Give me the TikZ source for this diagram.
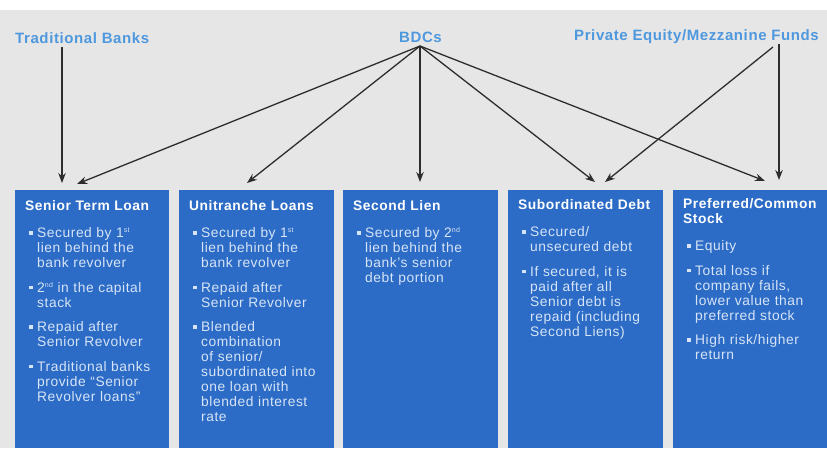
\documentclass[tikz,border=0pt]{standalone}
\usepackage{fontspec}
\newfontfamily\diagfont{Liberation Sans}[LetterSpace=4]
\usetikzlibrary{arrows.meta}

\definecolor{boxblue}{RGB}{44,108,198}
\definecolor{labelblue}{RGB}{78,152,222}
\definecolor{bodytext}{RGB}{214,228,246}
\definecolor{backdrop}{RGB}{230,230,230}
\definecolor{arrowgrey}{RGB}{45,45,45}

% panel heading (white, bold) followed by the gap before the first bullet
\newcommand\panelhead[1]{\strut{\color{white}\bfseries #1}\par\vspace{12pt}}
% one bullet point with a small square marker and hanging indent
\newcommand\bullitem[1]{\hangindent=12pt\hangafter=1\noindent
  \makebox[12pt][l]{\hspace{4pt}\rule[3.2pt]{3.4pt}{3.4pt}}#1\par\vspace{9.5pt}}
% small raised ordinal suffix
\newcommand\ordsuf[1]{\raisebox{5pt}{\fontsize{7}{7}\selectfont #1}}

\tikzset{
  source/.style={font=\diagfont\fontsize{15}{17}\selectfont\bfseries, text=labelblue, inner sep=0pt},
  panel/.style={fill=boxblue, draw=none, anchor=north west, minimum height=258pt, inner sep=0pt},
  paneltext/.style={anchor=north west, inner sep=0pt, text width=142pt, align=left,
    text=bodytext, font=\diagfont\fontsize{13.8}{15}\selectfont},
  flow/.style={draw=arrowgrey, line width=1.3pt, -{Stealth[length=10pt,width=7.5pt]}}
}

\begin{document}
\begin{tikzpicture}[x=1pt, y=-1pt]
  \useasboundingbox (0,0) rectangle (827,448);
  \fill[white] (0,0) rectangle (827,10);
  \fill[backdrop] (0,10) rectangle (827,448);

  % funding sources
  \node[source, anchor=base west] (banks) at (15,43) {Traditional Banks};
  \node[source, anchor=base west] (bdcs) at (399,42) {BDCs};
  \node[source, anchor=base west] (pe) at (574,40) {Private Equity/Mezzanine Funds};

  % capital-structure panels
  \node[panel, minimum width=154pt] (senior) at (15,190) {};
  \node[panel, minimum width=155pt] (unitranche) at (179,190) {};
  \node[panel, minimum width=155pt] (secondlien) at (343,190) {};
  \node[panel, minimum width=155pt] (subdebt) at (508,190) {};
  \node[panel, minimum width=154pt] (equity) at (673,190) {};

  \node[paneltext] (senior-text) at (25,200) {%
    \panelhead{Senior Term Loan}
    \bullitem{Secured by 1\ordsuf{st}\newline lien behind the\newline bank revolver}
    \bullitem{2\ordsuf{nd} in the capital\newline stack}
    \bullitem{Repaid after\newline Senior Revolver}
    \bullitem{Traditional banks\newline provide “Senior\newline Revolver loans”}};

  \node[paneltext] (unitranche-text) at (189,200) {%
    \panelhead{Unitranche Loans}
    \bullitem{Secured by 1\ordsuf{st}\newline lien behind the\newline bank revolver}
    \bullitem{Repaid after\newline Senior Revolver}
    \bullitem{Blended\newline combination\newline of senior/\newline subordinated into\newline one loan with\newline blended interest\newline rate}};

  \node[paneltext] (secondlien-text) at (353,200) {%
    \panelhead{Second Lien}
    \bullitem{Secured by 2\ordsuf{nd}\newline lien behind the\newline bank’s senior\newline debt portion}};

  \node[paneltext] (subdebt-text) at (518,199) {%
    \panelhead{Subordinated Debt}
    \bullitem{Secured/\newline unsecured debt}
    \bullitem{If secured, it is\newline paid after all\newline Senior debt is\newline repaid (including\newline Second Liens)}};

  \node[paneltext] (equity-text) at (683,198) {%
    \panelhead{Preferred/Common\newline Stock}
    \bullitem{Equity}
    \bullitem{Total loss if\newline company fails,\newline lower value than\newline preferred stock}
    \bullitem{High risk/higher\newline return}};

  % connector ends
  \coordinate (banks-out) at (62,47);
  \coordinate (bdcs-out) at (420,46);
  \coordinate (pe-out-a) at (773,47);
  \coordinate (pe-out-b) at (779,44);
  \coordinate (senior-in-a) at (62,183);
  \coordinate (senior-in-b) at (77,184);
  \coordinate (unitranche-in) at (247,183);
  \coordinate (secondlien-in) at (420,182);
  \coordinate (subdebt-in-a) at (595,182);
  \coordinate (subdebt-in-b) at (605,182);
  \coordinate (equity-in-a) at (765,181);
  \coordinate (equity-in-b) at (779,180);

  \draw[flow] (banks-out) -- (senior-in-a);
  \draw[flow] (bdcs-out) -- (senior-in-b);
  \draw[flow] (bdcs-out) -- (unitranche-in);
  \draw[flow] (bdcs-out) -- (secondlien-in);
  \draw[flow] (bdcs-out) -- (subdebt-in-a);
  \draw[flow] (bdcs-out) -- (equity-in-a);
  \draw[flow] (pe-out-a) -- (subdebt-in-b);
  \draw[flow] (pe-out-b) -- (equity-in-b);
\end{tikzpicture}
\end{document}
